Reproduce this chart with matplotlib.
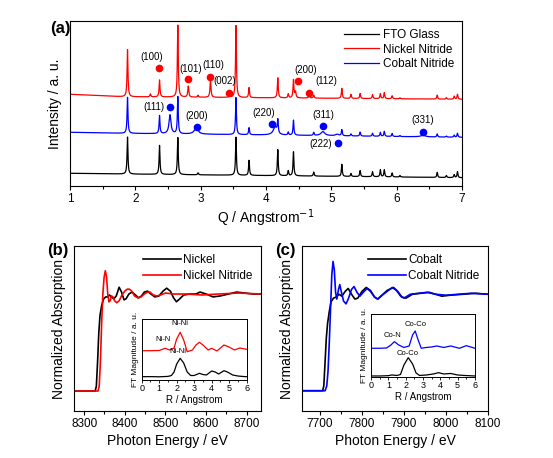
import numpy as np
import matplotlib
matplotlib.use("Agg")
import matplotlib.pyplot as plt
from matplotlib.ticker import MultipleLocator

plt.rcParams["font.family"] = ["Liberation Sans", "DejaVu Sans"]

# ---- (a) XRD: peak lists (Q, height, half width), heights in px-like units ----
fto_q = [1.88, 2.37, 2.65, 2.96, 3.54, 3.74, 4.18, 4.34, 4.42, 4.73, 5.16, 5.30, 5.44, 5.63, 5.75, 5.81, 5.93, 6.05, 6.62, 6.76, 6.88, 6.93]
fto_h = [37, 29, 37, 2, 38, 15, 26, 5, 24, 4, 12, 3, 6, 5, 7, 7, 4, 1.5, 5, 2, 3, 6]
fto_w = [0.008] * len(fto_q)

ni_q = fto_q + [2.23, 2.37, 2.81, 3.15, 3.44, 4.45, 4.66]
ni_h = [47, 10, 72, 2, 72, 10, 20, 4, 18, 3, 10, 4, 5, 4, 5, 6, 3, 1, 4, 1.5, 3, 5] + [3, 7, 11, 17, 1.5, 6, 3]
ni_w = [0.008] * len(fto_q) + [0.008, 0.008, 0.009, 0.009, 0.01, 0.01, 0.01]

co_q = fto_q + [2.53, 2.93, 4.14, 4.87, 5.09, 6.40]
co_h = [36, 18, 37, 1, 37, 7, 13, 3, 15, 3, 6, 2, 4, 3, 4, 5, 3, 1, 3, 1, 2, 4] + [19, 6, 8, 4, 1.5, 1.5]
co_w = [0.008] * len(fto_q) + [0.018, 0.035, 0.035, 0.035, 0.03, 0.04]

# baselines (Q, level)
base_q = [1.0, 1.8, 7.0]
fto_base = [12.7, 12.0, 8.3]
co_base = [53.7, 52.7, 48.7]
ni_base = [91.7, 89.3, 86.7]

# reflection markers
ni_mark_q = [2.36, 2.81, 3.15, 3.43, 4.49, 4.66]
ni_mark_y = [118.3, 106.7, 109.3, 93.3, 105.3, 93.3]
ni_mark_lbl = ["(100)", "(101)", "(110)", "(002)", "(200)", "(112)"]
ni_lbl_q = [2.25, 2.85, 3.19, 3.36, 4.60, 4.93]
ni_lbl_y = [129.3, 116.7, 120.7, 105.0, 116.0, 105.0]

co_mark_q = [2.53, 2.94, 4.09, 4.87, 5.10, 6.40]
co_mark_y = [79.3, 59.3, 62.0, 60.3, 42.7, 54.3]
co_mark_lbl = ["(111)", "(200)", "(220)", "(311)", "(222)", "(331)"]
co_lbl_q = [2.28, 2.94, 3.97, 4.87, 4.83, 6.40]
co_lbl_y = [78.7, 70.0, 72.7, 71.0, 42.0, 66.0]

# ---- (b) Ni K-edge XANES (eV, normalized) ----
ni_e = [8275, 8327, 8330, 8333, 8336, 8339, 8343, 8348, 8353, 8358, 8362, 8367, 8373, 8379, 8386, 8392, 8398, 8403, 8410, 8418, 8426, 8434, 8441, 8448, 8456, 8464, 8474, 8484, 8494, 8503, 8512, 8520, 8527, 8535, 8545, 8560, 8575, 8585, 8600, 8617, 8635, 8655, 8675, 8695, 8715, 8735]
ni_mu = [0.0, 0.0, 0.05, 0.3, 0.6, 0.78, 0.88, 0.95, 0.97, 0.97, 0.99, 0.97, 0.95, 0.98, 1.07, 1.02, 0.94, 0.95, 1.0, 1.02, 0.99, 0.96, 0.98, 1.02, 1.03, 1.0, 0.97, 0.98, 1.03, 1.06, 1.03, 0.96, 0.92, 0.95, 0.99, 1.0, 1.0, 1.02, 1.0, 0.97, 0.98, 1.0, 1.02, 1.01, 1.0, 1.0]
ni3n_e = [8275, 8334, 8337, 8340, 8343, 8346, 8349, 8352, 8355, 8358, 8361, 8364, 8367, 8371, 8375, 8380, 8386, 8393, 8400, 8406, 8411, 8417, 8424, 8432, 8440, 8448, 8456, 8462, 8470, 8478, 8488, 8500, 8520, 8550, 8590, 8630, 8680, 8735]
ni3n_mu = [0.0, 0.0, 0.05, 0.3, 0.7, 1.0, 1.17, 1.24, 1.18, 1.0, 0.92, 0.93, 0.98, 0.97, 0.93, 0.91, 0.93, 0.99, 1.03, 1.05, 1.05, 1.03, 0.98, 0.96, 0.97, 1.0, 1.02, 1.02, 0.99, 0.98, 0.99, 1.01, 1.0, 1.0, 0.99, 1.0, 1.01, 1.0]

# ---- (c) Co K-edge XANES ----
co_e = [7650, 7706, 7709, 7712, 7715, 7718, 7722, 7726, 7732, 7738, 7745, 7752, 7760, 7767, 7775, 7783, 7790, 7800, 7810, 7820, 7830, 7837, 7845, 7860, 7875, 7885, 7895, 7905, 7920, 7940, 7960, 7975, 7990, 8010, 8040, 8070, 8100]
co_mu = [0.0, 0.0, 0.05, 0.3, 0.55, 0.7, 0.82, 0.92, 0.96, 0.97, 1.0, 0.98, 1.03, 1.06, 1.0, 0.95, 0.96, 1.03, 1.07, 1.04, 0.97, 0.95, 0.98, 1.04, 1.07, 1.03, 0.97, 0.96, 1.0, 1.01, 1.02, 1.0, 0.98, 0.99, 1.0, 1.01, 1.0]
con_e = [7650, 7712, 7716, 7719, 7722, 7725, 7728, 7731, 7734, 7737, 7740, 7744, 7747, 7751, 7756, 7762, 7768, 7775, 7781, 7788, 7795, 7803, 7812, 7820, 7830, 7838, 7848, 7860, 7872, 7882, 7892, 7900, 7915, 7935, 7955, 7975, 8000, 8030, 8060, 8100]
con_mu = [0.0, 0.0, 0.05, 0.2, 0.5, 0.85, 1.2, 1.34, 1.25, 1.02, 0.95, 1.05, 1.1, 1.02, 0.93, 0.9, 0.96, 1.05, 1.08, 1.02, 0.98, 1.02, 1.06, 1.03, 0.97, 0.95, 0.99, 1.03, 1.07, 1.04, 0.98, 0.96, 1.0, 1.01, 1.02, 1.0, 0.99, 1.0, 1.01, 1.0]

# ---- insets: FT magnitude (R, value) ----
ft_ni_r = [0, 0.5, 1.0, 1.5, 1.7, 1.85, 2.0, 2.2, 2.4, 2.6, 2.8, 3.0, 3.3, 3.5, 3.7, 4.0, 4.2, 4.4, 4.7, 4.9, 5.2, 5.5, 5.8, 6.0]
ft_ni_v = [3.3, 3.4, 3.2, 3.6, 4.5, 8, 16, 21.7, 17, 8, 4.5, 4.5, 6.7, 5.5, 5, 9, 8, 6, 9.3, 8, 5, 4, 3.5, 3.3]
ft_ni3n_r = [0, 0.5, 1.0, 1.35, 1.6, 1.85, 2.0, 2.2, 2.4, 2.6, 2.9, 3.1, 3.3, 3.5, 3.8, 4.0, 4.3, 4.5, 4.7, 5.0, 5.3, 5.6, 6.0]
ft_ni3n_v = [29.3, 29.3, 29.5, 31.7, 30, 32, 41, 47.7, 40, 28.3, 30, 35, 37.7, 35, 30, 31.7, 29, 32, 35, 33, 30, 32, 30.7]
ft_co_r = [0, 0.5, 1.0, 1.2, 1.5, 1.7, 1.9, 2.15, 2.4, 2.6, 2.8, 3.2, 3.6, 3.9, 4.2, 4.6, 5.0, 5.4, 6.0]
ft_co_v = [1, 1, 1.3, 2, 1.5, 2.5, 12, 19.3, 13, 4, 1.5, 2, 3, 4.3, 3, 3.5, 2, 1.5, 1]
ft_con_r = [0, 0.5, 0.9, 1.15, 1.35, 1.6, 1.9, 2.2, 2.4, 2.55, 2.7, 2.9, 3.2, 3.5, 3.8, 4.2, 4.6, 5.1, 5.5, 6.0]
ft_con_v = [28.7, 28.7, 29, 32, 35.3, 32, 29.5, 31, 42, 46, 38, 28.7, 29.5, 30, 31, 29.5, 31, 28.7, 31.3, 28.7]

RED = "#ff0000"
BLUE = "#0000ff"


def pattern(q, peaks_q, peaks_h, peaks_w, bq, bv):
    y = np.interp(q, bq, bv)
    for p, h, w in zip(peaks_q, peaks_h, peaks_w):
        y = y + h / (1 + ((q - p) / w) ** 2)
    return y


fig = plt.figure(figsize=(5.53, 4.58), dpi=100)

# ---------------- panel (a) ----------------
ax = fig.add_axes([0.1266, 0.5939, 0.7089, 0.3603])
q = np.linspace(1, 7, 6001)
ax.plot(q, pattern(q, fto_q, fto_h, fto_w, base_q, fto_base), color="black", lw=0.9, label="FTO Glass")
ax.plot(q, pattern(q, ni_q, ni_h, ni_w, base_q, ni_base), color=RED, lw=0.9, label="Nickel Nitride")
ax.plot(q, pattern(q, co_q, co_h, co_w, base_q, co_base), color=BLUE, lw=0.9, label="Cobalt Nitride")
ax.plot(ni_mark_q, ni_mark_y, "o", color=RED, ms=4.5, ls="none")
ax.plot(co_mark_q, co_mark_y, "o", color=BLUE, ms=4.5, ls="none")
for xq, yq, t in zip(ni_lbl_q, ni_lbl_y, ni_mark_lbl):
    ax.text(xq, yq, t, fontsize=7, ha="center", va="center")
for xq, yq, t in zip(co_lbl_q, co_lbl_y, co_mark_lbl):
    ax.text(xq, yq, t, fontsize=7, ha="center", va="center")
ax.set_xlim(1, 7)
ax.set_ylim(0, 165)
ax.set_yticks([])
ax.xaxis.set_major_locator(MultipleLocator(1))
ax.xaxis.set_minor_locator(MultipleLocator(0.5))
ax.tick_params(axis="x", labelsize=8.5, length=3, width=0.8, pad=2)
ax.tick_params(axis="x", which="minor", length=2, width=0.8)
ax.set_xlabel("Q / Angstrom$^{-1}$", fontsize=10, labelpad=2)
ax.set_ylabel("Intensity / a. u.", fontsize=10, labelpad=6)
leg = ax.legend(loc="upper right", bbox_to_anchor=(1.0, 1.0), frameon=False, fontsize=8.5,
                handlelength=3.0, handletextpad=0.3, labelspacing=0.2, borderaxespad=0.3)
fig.text(50 / 553, 1 - 28 / 458, "(a)", fontsize=12, fontweight="bold", ha="left", va="center")


def xanes_panel(rect, e1, m1, e2, m2, col2, lab1, lab2, xlim, ylim, irect, r1, v1, r2, v2, ilim, ilabels):
    a = fig.add_axes(rect)
    a.plot(e1, m1, color="black", lw=1.2, label=lab1)
    a.plot(e2, m2, color=col2, lw=1.2, label=lab2)
    a.set_xlim(*xlim)
    a.set_ylim(*ylim)
    a.set_yticks([])
    a.xaxis.set_major_locator(MultipleLocator(100))
    a.xaxis.set_minor_locator(MultipleLocator(50))
    a.tick_params(axis="x", labelsize=8.5, length=3, width=0.8, pad=2)
    a.tick_params(axis="x", which="minor", length=2, width=0.8)
    a.set_xlabel("Photon Energy / eV", fontsize=10, labelpad=3)
    a.set_ylabel("Normalized Absorption", fontsize=10, labelpad=6)
    a.legend(loc="upper right", bbox_to_anchor=(1.0, 1.0), frameon=False, fontsize=8.5,
             handlelength=3.2, handletextpad=0.2, labelspacing=0.3, borderaxespad=0.3)
    ins = fig.add_axes(irect)
    ins.plot(r1, v1, color="black", lw=0.9)
    ins.plot(r2, v2, color=col2, lw=0.9)
    ins.set_xlim(0, 6)
    ins.set_ylim(0, ilim)
    ins.set_yticks([])
    ins.xaxis.set_major_locator(MultipleLocator(1))
    ins.xaxis.set_minor_locator(MultipleLocator(0.5))
    ins.tick_params(axis="x", labelsize=6.5, length=2, width=0.6, pad=1)
    ins.tick_params(axis="x", which="minor", length=1.2, width=0.6)
    for s in ins.spines.values():
        s.set_linewidth(0.7)
    ins.set_xlabel("R / Angstrom", fontsize=7, labelpad=1)
    ins.set_ylabel("FT Magnitude / a. u.", fontsize=6, labelpad=2)
    for xr, yr, t in ilabels:
        ins.text(xr, yr, t, fontsize=5.5, ha="center", va="center")
    return a


xanes_panel([0.1338, 0.1026, 0.3382, 0.3603], ni_e, ni_mu, ni3n_e, ni3n_mu, RED, "Nickel", "Nickel Nitride",
            (8275, 8735), (-0.206, 1.495), [0.2562, 0.1703, 0.1899, 0.1332],
            ft_ni_r, ft_ni_v, ft_ni3n_r, ft_ni3n_v, 61,
            [(2.19, 56, "Ni-Ni"), (1.23, 40.7, "Ni-N"), (2.09, 28.3, "Ni-Ni")])
fig.text(58 / 553, 1 - 250 / 458, "(b)", fontsize=12, fontweight="bold", ha="center", va="center")

xanes_panel([0.5461, 0.1026, 0.3363, 0.3603], co_e, co_mu, con_e, con_mu, BLUE, "Cobalt", "Cobalt Nitride",
            (7657, 8100), (-0.21, 1.50), [0.6709, 0.1769, 0.188, 0.1376],
            ft_co_r, ft_co_v, ft_con_r, ft_con_v, 63,
            [(2.6, 52.7, "Co-Co"), (1.26, 41.3, "Co-N"), (2.13, 23, "Co-Co")])
fig.text(285 / 553, 1 - 250 / 458, "(c)", fontsize=12, fontweight="bold", ha="center", va="center")

fig.savefig("out.png", dpi=100)
